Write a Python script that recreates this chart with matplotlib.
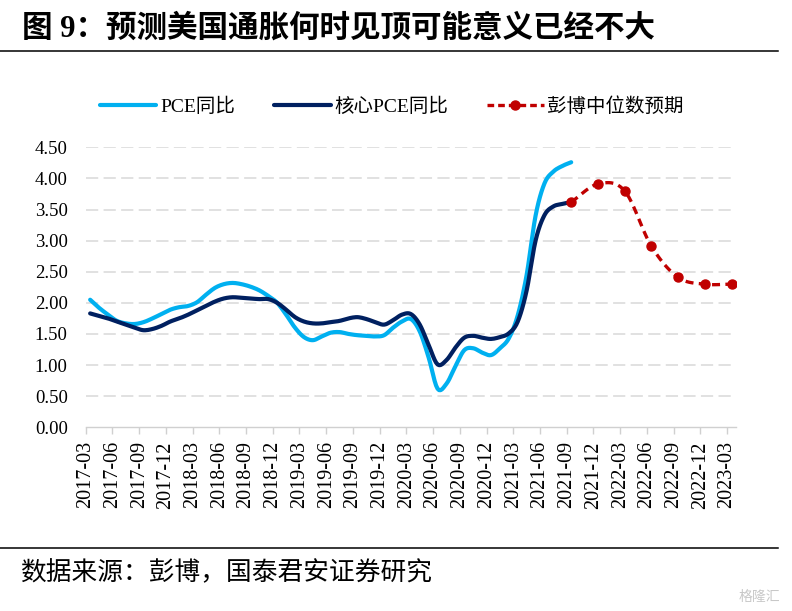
import numpy as np
import matplotlib
matplotlib.use('Agg')
import matplotlib.pyplot as plt
from matplotlib.lines import Line2D

# monthly data, 2017-03 .. 2021-09
pce = [2.05, 1.92, 1.81, 1.71, 1.67, 1.66, 1.69, 1.75, 1.82, 1.89,
       1.93, 1.95, 2.01, 2.13, 2.24, 2.30, 2.32, 2.30, 2.26, 2.20,
       2.11, 2.00, 1.81, 1.60, 1.45, 1.40, 1.46, 1.52, 1.53, 1.50,
       1.48, 1.47, 1.46, 1.48, 1.60, 1.70, 1.74, 1.54, 1.12, 0.62,
       0.70, 0.98, 1.24, 1.27, 1.20, 1.16, 1.27, 1.43, 1.80, 2.45,
       3.40, 3.92, 4.11, 4.20, 4.26]
core_pce = [1.83, 1.79, 1.75, 1.70, 1.65, 1.60, 1.56, 1.58, 1.63, 1.70,
            1.75, 1.81, 1.88, 1.95, 2.02, 2.07, 2.09, 2.08, 2.07, 2.06,
            2.06, 2.00, 1.89, 1.77, 1.70, 1.67, 1.67, 1.69, 1.71, 1.75,
            1.77, 1.74, 1.69, 1.65, 1.72, 1.81, 1.82, 1.65, 1.32, 1.01,
            1.08, 1.28, 1.44, 1.47, 1.44, 1.42, 1.45, 1.51, 1.70, 2.20,
            3.00, 3.41, 3.55, 3.59, 3.62]
# Bloomberg median forecast, quarterly 2021-09 .. 2023-03
forecast = [3.62, 3.91, 3.80, 2.91, 2.41, 2.30, 2.30]

months = []
for y in range(2017, 2024):
    for m in range(1, 13):
        months.append('%d-%02d' % (y, m))
months = months[2:months.index('2023-03') + 1]   # 2017-03 .. 2023-03

light_blue = '#00b0f0'
navy = '#002060'
red = '#c00000'


def smooth(x, y, n=12):
    # catmull-rom path through the points, like excel's smoothed line
    x = np.asarray(x, float)
    y = np.asarray(y, float)
    px = np.concatenate([[2 * x[0] - x[1]], x, [2 * x[-1] - x[-2]]])
    py = np.concatenate([[2 * y[0] - y[1]], y, [2 * y[-1] - y[-2]]])
    xs, ys = [], []
    t = np.linspace(0, 1, n, endpoint=False)
    for i in range(1, len(px) - 2):
        for p, out in ((px, xs), (py, ys)):
            p0, p1, p2, p3 = p[i - 1], p[i], p[i + 1], p[i + 2]
            out.extend(0.5 * (2 * p1 + (-p0 + p2) * t
                              + (2 * p0 - 5 * p1 + 4 * p2 - p3) * t ** 2
                              + (-p0 + 3 * p1 - 3 * p2 + p3) * t ** 3))
    xs.append(x[-1])
    ys.append(y[-1])
    return xs, ys


fig = plt.figure(figsize=(7.92, 6.11), dpi=100)
ax = fig.add_axes([0.1082, 0.3007, 0.8211, 0.4582])

serif = ['Liberation Serif', 'Noto Sans CJK SC']

x_hist = np.arange(len(pce))
x_fc = np.arange(len(pce) - 1, len(months), 3)

ax.plot(*smooth(x_hist, pce, 6), color=light_blue, lw=3.0,
        solid_capstyle='round', label='PCE同比', zorder=3)
ax.plot(*smooth(x_hist, core_pce, 6), color=navy, lw=3.0,
        solid_capstyle='round', label='核心PCE同比', zorder=4)
ax.plot(*smooth(x_fc, forecast), color=red, lw=2.4, dashes=(2.4, 1.6),
        zorder=5)
ax.plot(x_fc, forecast, 'o', color=red, ms=6.5, zorder=6)
fc_handle = Line2D([], [], color=red, lw=2.4, dashes=(2.0, 1.2),
                   marker='o', ms=6.5, label='彭博中位数预期')

ax.set_xlim(-0.5, len(months) - 0.5)
ax.set_ylim(0, 4.5)
yt = np.arange(0, 4.51, 0.5)
ax.set_yticks(yt)
ax.set_yticklabels(['%.2f' % v for v in yt], fontsize=13.5, family=serif)
ax.tick_params(axis='y', length=0, pad=13)
xt = np.arange(0, len(months), 3)
ax.set_xticks(xt - 0.5)
ax.set_xticklabels([months[i] for i in xt], rotation=90, fontsize=14.5,
                   family=serif)
ax.tick_params(axis='x', length=5, color='#d0d0d0', width=1, pad=5)

for v in yt[1:]:
    ax.axhline(v, color='#d9d9d9', lw=1.1, dashes=(8, 3.5), zorder=1)
for s in ['top', 'right', 'left']:
    ax.spines[s].set_visible(False)
ax.spines['bottom'].set_color('#d0d0d0')
ax.spines['bottom'].set_linewidth(1)

handles = ax.get_legend_handles_labels()[0] + [fc_handle]
fig.legend(handles=handles, loc='center', bbox_to_anchor=(0.495, 0.825),
           ncol=3, frameon=False, handlelength=2.9, handletextpad=0.2,
           columnspacing=2.0, numpoints=1, prop={'family': serif, 'size': 14})

fig.text(0.0278, 0.9525, '图 9：预测美国通胀何时见顶可能意义已经不大',
         fontsize=22, fontweight='bold', family=serif, va='center')
fig.add_artist(Line2D([0, 0.982], [0.9165, 0.9165], color='black', lw=1.1))
fig.add_artist(Line2D([0, 0.982], [0.1031, 0.1031], color='black', lw=1.1))
fig.text(0.025, 0.0622, '数据来源：彭博，国泰君安证券研究', fontsize=18.5,
         family=serif, va='center')
fig.text(0.985, 0.022, '格隆汇', fontsize=10, color='#c8c8c8', ha='right',
         va='center', family=serif)

fig.savefig('out.png', dpi=100)
